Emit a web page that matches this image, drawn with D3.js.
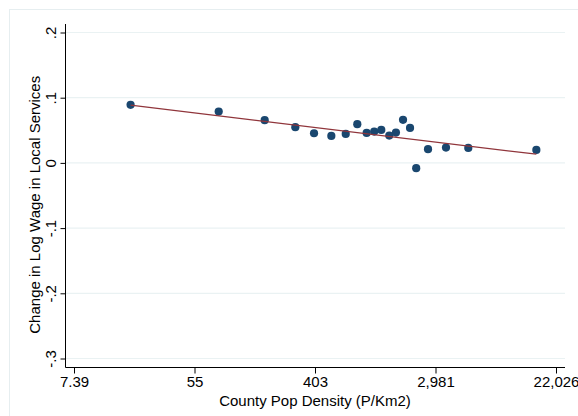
<!DOCTYPE html>
<html>
<head>
<meta charset="utf-8">
<script src="https://cdn.jsdelivr.net/npm/d3@7"></script>
<style>
  body { margin: 0; background: #fff; }
  text { font-family: Arial, "Liberation Sans", sans-serif; fill: #000; }
</style>
</head>
<body>
<div id="chart"></div>
<script>
// binned means: county pop density (P/Km2) vs change in log wage
var density = [18.9, 81.6, 175, 291, 397, 529, 672, 814, 951, 1078,
               1212, 1384, 1546, 1739, 1953, 2164, 2633, 3548, 5137, 15900];
var wageChange = [0.0890, 0.0787, 0.0655, 0.0548, 0.0455, 0.0414, 0.0445, 0.0594, 0.0460, 0.0480,
                  0.0506, 0.0419, 0.0465, 0.0660, 0.0537, -0.0081, 0.0210, 0.0235, 0.0230, 0.0199];
// fitted line end points
var fitX = [18.9, 15900];
var fitY = [0.0885, 0.0133];

var xTicks = [Math.exp(2), Math.exp(4), Math.exp(6), Math.exp(8), Math.exp(10)];
var xTickLabels = ["7.39", "55", "403", "2,981", "22,026"];
var yTicks = [0.2, 0.1, 0, -0.1, -0.2, -0.3];
var yTickLabels = [".2", ".1", "0", "-.1", "-.2", "-.3"];

function drawChart(width, height) {
    var svg = d3.select("#chart")
        .append("svg")
        .attr("width", width)
        .attr("height", height);

    // graph region outline
    svg.append("rect")
        .attr("x", 9.5).attr("y", 9.5)
        .attr("width", 580).attr("height", 420)
        .attr("fill", "none")
        .attr("stroke", "#e6eef0")
        .attr("stroke-width", 1);

    var x = d3.scaleLog()
        .domain([Math.exp(2), Math.exp(10)])
        .range([74, 556]);

    var y = d3.scaleLinear()
        .domain([-0.3, 0.2])
        .range([358.5, 32.5]);

    var plotL = 65.5, plotR = 565, plotT = 24, plotB = 367.5;

    // gridlines
    svg.selectAll(".grid")
        .data(yTicks)
        .enter()
        .append("line")
        .attr("x1", plotL).attr("x2", plotR)
        .attr("y1", function(d) { return y(d); })
        .attr("y2", function(d) { return y(d); })
        .attr("stroke", "#eaf2f3")
        .attr("stroke-width", 1.2);

    // y axis
    var yAxis = svg.append("g")
        .attr("transform", "translate(" + plotL + ",0)")
        .call(d3.axisLeft(y).tickValues(yTicks)
            .tickFormat(function(d, i) { return yTickLabels[i]; })
            .tickSize(5).tickSizeOuter(0));
    yAxis.select(".domain").remove();
    yAxis.append("line")
        .attr("x1", 0).attr("x2", 0)
        .attr("y1", plotT).attr("y2", plotB)
        .attr("stroke", "#000");
    yAxis.selectAll(".tick line").attr("stroke", "#000");
    yAxis.selectAll(".tick text")
        .attr("x", 0).attr("dy", 0)
        .attr("transform", "translate(-10,0) rotate(-90)")
        .attr("text-anchor", "middle")
        .style("font-size", "15px")
        .style("fill", "#000");

    // x axis
    var xAxis = svg.append("g")
        .attr("transform", "translate(0," + plotB + ")")
        .call(d3.axisBottom(x).tickValues(xTicks)
            .tickFormat(function(d, i) { return xTickLabels[i]; })
            .tickSize(6).tickSizeOuter(0));
    xAxis.select(".domain").remove();
    xAxis.append("line")
        .attr("x1", plotL).attr("x2", plotR)
        .attr("y1", 0).attr("y2", 0)
        .attr("stroke", "#000");
    xAxis.selectAll(".tick line").attr("stroke", "#000");
    xAxis.selectAll(".tick text")
        .attr("y", 9)
        .style("font-size", "15px")
        .style("fill", "#000");

    // axis titles
    svg.append("text")
        .attr("transform", "translate(40," + ((plotT + plotB) / 2 + 9) + ") rotate(-90)")
        .attr("text-anchor", "middle")
        .style("font-size", "15px")
        .text("Change in Log Wage in Local Services");

    svg.append("text")
        .attr("x", 315).attr("y", 406)
        .attr("text-anchor", "middle")
        .style("font-size", "15px")
        .text("County Pop Density (P/Km2)");

    // points
    svg.selectAll(".pt")
        .data(density)
        .enter()
        .append("circle")
        .attr("cx", function(d) { return x(d); })
        .attr("cy", function(d, i) { return y(wageChange[i]); })
        .attr("r", 4.1)
        .attr("fill", "#1a476f");

    // fitted line
    svg.append("path")
        .datum(d3.zip(fitX, fitY))
        .attr("d", d3.line()
            .x(function(d) { return x(d[0]); })
            .y(function(d) { return y(d[1]); }))
        .attr("fill", "none")
        .attr("stroke", "#90353b")
        .attr("stroke-width", 1.3);
}

drawChart(578, 416);
</script>
</body>
</html>
